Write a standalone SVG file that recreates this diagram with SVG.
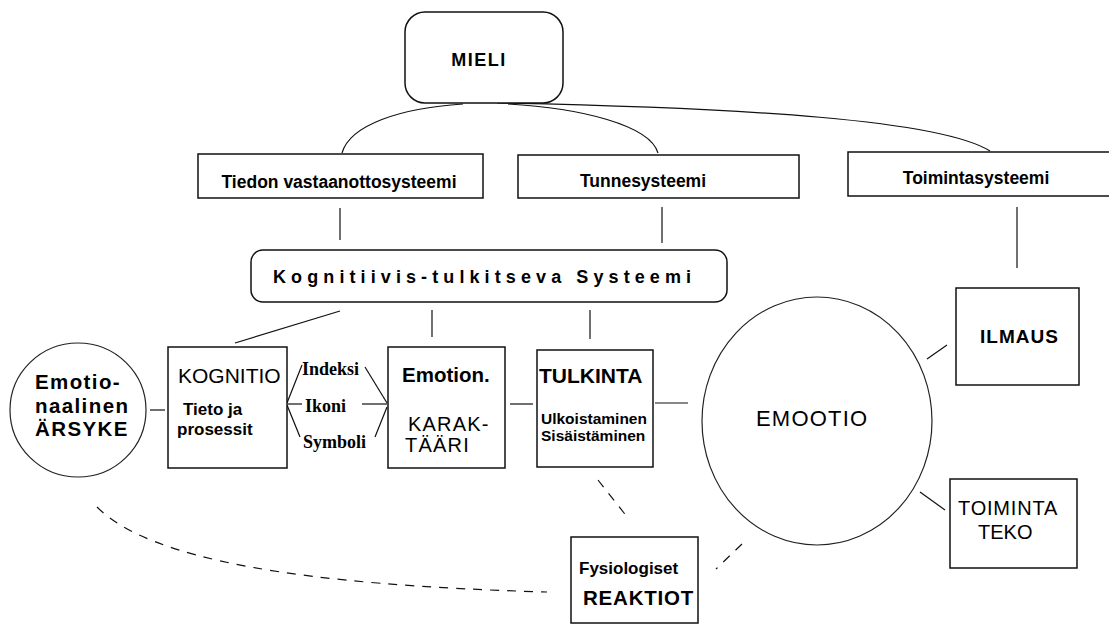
<svg xmlns="http://www.w3.org/2000/svg" width="1109" height="630" viewBox="0 0 1109 630">
<style>
.box{fill:#fff;stroke:#111;stroke-width:1.5}
.circ{fill:#fff;stroke:#222;stroke-width:1.2}
.ln{fill:none;stroke:#111;stroke-width:1.2}
.dash{fill:none;stroke:#111;stroke-width:1.2;stroke-dasharray:9 8}
.t{font-family:"Liberation Sans",Arial,sans-serif;fill:#000}
.b{font-weight:bold}
.s{font-family:"Liberation Serif","Times New Roman",serif;font-weight:bold;font-size:18px;fill:#000}
</style>
<rect width="1109" height="630" fill="#fff"/>
<g id="connectors">
<path class="ln" d="M342,153 C350,125 400,108 463,104"/>
<path class="ln" d="M508,104 C580,108 650,125 658,153"/>
<path class="ln" d="M497,103 C750,108 940,120 990,151"/>
<line class="ln" x1="340" y1="208" x2="340" y2="240"/>
<line class="ln" x1="662" y1="207" x2="662" y2="243"/>
<line class="ln" x1="1017" y1="207" x2="1017" y2="268"/>
<line class="ln" x1="340" y1="311" x2="235" y2="343"/>
<line class="ln" x1="432" y1="310" x2="432" y2="337"/>
<line class="ln" x1="590" y1="310" x2="590" y2="339"/>
<line class="ln" x1="150" y1="410" x2="165" y2="410"/>
<line class="ln" x1="287" y1="403" x2="302" y2="365"/>
<line class="ln" x1="288" y1="404" x2="302" y2="404"/>
<line class="ln" x1="287" y1="405" x2="300" y2="437"/>
<line class="ln" x1="365" y1="367" x2="387" y2="403"/>
<line class="ln" x1="362" y1="404" x2="387" y2="404"/>
<line class="ln" x1="375" y1="437" x2="387" y2="407"/>
<line class="ln" x1="510" y1="404" x2="533" y2="404"/>
<line class="ln" x1="655" y1="403" x2="688" y2="403"/>
<line class="ln" x1="927" y1="359" x2="947" y2="345"/>
<line class="ln" x1="920" y1="492" x2="945" y2="510"/>
<line class="dash" x1="598" y1="480" x2="628" y2="518"/>
<line class="dash" x1="742" y1="544" x2="716" y2="569"/>
<path class="dash" d="M97,507 C150,560 300,585 547,592"/>
</g>
<g id="mieli">
<rect class="box" x="405" y="12" width="158" height="91" rx="20"/>
<text class="t b" x="479" y="66" font-size="18" letter-spacing="1.5" text-anchor="middle">MIELI</text>
</g>
<g id="tiedon">
<rect class="box" x="198" y="154" width="285" height="44"/>
<text class="t b" x="339" y="188" font-size="17.5" text-anchor="middle">Tiedon vastaanottosysteemi</text>
</g>
<g id="tunne">
<rect class="box" x="518" y="155" width="281" height="43"/>
<text class="t b" x="643" y="187" font-size="17.5" text-anchor="middle">Tunnesysteemi</text>
</g>
<g id="toiminta-systeemi">
<rect class="box" x="848" y="152" width="265" height="44"/>
<text class="t b" x="976" y="184" font-size="17.5" text-anchor="middle">Toimintasysteemi</text>
</g>
<g id="kognitiivis">
<rect class="box" x="251" y="250" width="476" height="52" rx="12"/>
<text class="t b" x="273" y="283" font-size="18" letter-spacing="5.1">Kognitiivis-tulkitseva Systeemi</text>
</g>
<g id="arsyke">
<ellipse class="circ" cx="78" cy="410" rx="68" ry="67"/>
<text class="t b" font-size="20.5" letter-spacing="1.4"><tspan x="35" y="389">Emotio-</tspan><tspan x="35" y="413">naalinen</tspan><tspan x="35" y="436">ÄRSYKE</tspan></text>
</g>
<g id="kognitio">
<rect class="box" x="168" y="347" width="119" height="121"/>
<text class="t" x="178" y="383" font-size="21">KOGNITIO</text>
<text class="t b" font-size="17"><tspan x="183" y="415">Tieto ja</tspan><tspan x="177" y="435">prosessit</tspan></text>
</g>
<g id="merkit">
<text class="s" x="302" y="375">Indeksi</text>
<text class="s" x="305" y="412">Ikoni</text>
<text class="s" x="303" y="448">Symboli</text>
</g>
<g id="karakteeri">
<rect class="box" x="388" y="347" width="117" height="121"/>
<text class="t b" x="402" y="382" font-size="20.5">Emotion.</text>
<text class="t" font-size="20" letter-spacing="1.2"><tspan x="408" y="431">KARAK-</tspan><tspan x="405" y="452">TÄÄRI</tspan></text>
</g>
<g id="tulkinta">
<rect class="box" x="537" y="350" width="116" height="117"/>
<text class="t b" x="539" y="383" font-size="21">TULKINTA</text>
<text class="t b" font-size="15.5"><tspan x="541" y="424">Ulkoistaminen</tspan><tspan x="541" y="441">Sisäistäminen</tspan></text>
</g>
<g id="emootio">
<ellipse class="circ" cx="817" cy="421" rx="115" ry="124"/>
<text class="t" x="756" y="426" font-size="22" letter-spacing="1.2">EMOOTIO</text>
</g>
<g id="ilmaus">
<rect class="box" x="956" y="288" width="123" height="97"/>
<text class="t b" x="980" y="343" font-size="19" letter-spacing="1">ILMAUS</text>
</g>
<g id="toiminta-teko">
<rect class="box" x="950" y="479" width="127" height="89"/>
<text class="t" font-size="20"><tspan x="958" y="515" letter-spacing="0.8">TOIMINTA</tspan><tspan x="978" y="539">TEKO</tspan></text>
</g>
<g id="reaktiot">
<rect class="box" x="571" y="537" width="127" height="86"/>
<text class="t b" x="579" y="574" font-size="17">Fysiologiset</text>
<text class="t b" x="583" y="605" font-size="20.5" letter-spacing="0.8">REAKTIOT</text>
</g>
</svg>
